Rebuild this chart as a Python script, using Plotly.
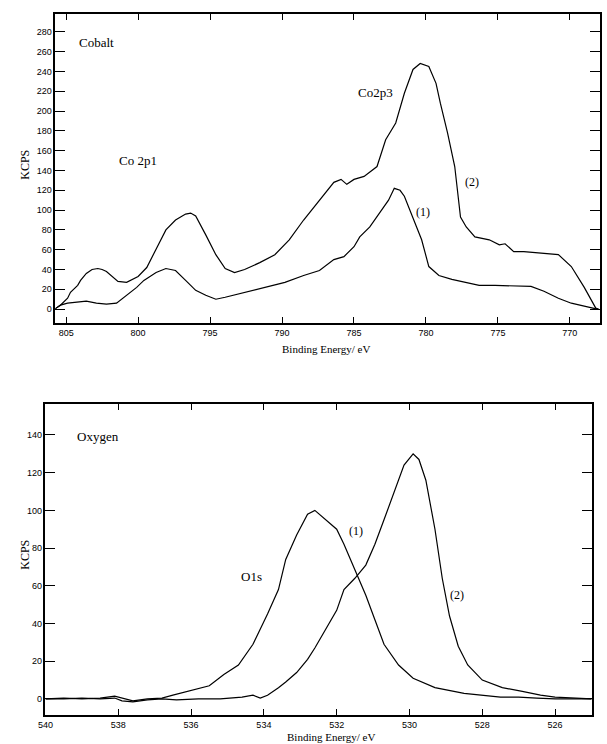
import plotly.graph_objects as go

# ---------- Cobalt (top panel) ----------
co_x_upper = [805.8, 805.4, 804.9, 804.7, 804.2, 804.0, 803.6, 803.2, 802.8, 802.5, 802.2, 801.8,
              801.4, 800.8, 800.5, 800.0, 799.4, 798.75, 798.07, 797.4, 796.7, 796.35, 796.0,
              795.3, 794.6, 793.95, 793.3, 792.6, 791.55, 790.5, 789.5, 788.5, 787.8, 787.1,
              786.4, 785.9, 785.5, 785.0, 784.3, 783.4, 782.8, 782.1, 781.5, 780.9, 780.4,
              779.8, 779.3, 779.0, 778.5, 778.0, 777.6, 777.2, 776.6, 775.6, 774.9, 774.5,
              773.9, 773.2, 772.2, 770.8, 769.9, 769.0, 768.2, 768.0]
co_y_upper = [0, 4, 11, 17, 24, 29, 36, 40, 41, 40, 38, 33,
              28, 27, 29, 33, 42, 60, 80, 90, 96, 97, 94,
              75, 55, 41, 37, 40, 47, 55, 70, 90, 103, 115,
              128, 131, 126, 131, 134, 144, 171, 188, 218, 242, 248,
              245, 228, 208, 178, 144, 93, 83, 73, 70, 65, 66,
              58, 58, 57, 55, 43, 22, 1, 0]

co_x_lower = [805.8, 805.4, 804.9, 804.2, 803.6, 802.9, 802.2, 801.5, 800.8, 800.1, 799.6,
              798.75, 798.07, 797.4, 796.7, 796.0, 795.3, 794.6, 793.95, 792.6, 791.2,
              789.8, 788.5, 787.4, 786.4, 785.7, 785.0, 784.6, 783.9, 783.2, 782.6, 782.2,
              781.8, 781.5, 780.9, 780.3, 779.8, 779.1, 778.2, 777.3, 776.3, 775.2, 773.6,
              772.7, 771.8, 770.8, 769.9, 769.0, 768.1]
co_y_lower = [0, 4, 6, 7, 8, 6, 5, 6, 14, 22, 29,
              37, 41, 39, 29, 19, 14, 10, 12, 17, 22,
              27, 34, 39, 50, 53, 63, 73, 83, 97, 110, 122,
              120, 114, 93, 70, 43, 34, 30, 27, 24, 24, 23,
              23, 18, 11, 6, 3, 0]

co_xticks = [805, 800, 795, 790, 785, 780, 775, 770]
co_yticks = list(range(0, 281, 20))

# ---------- Oxygen (bottom panel) ----------
o_x_1 = [540.0, 539.5, 539.0, 538.5, 538.1, 537.9, 537.6, 537.2, 536.8, 536.5, 536.1, 535.5,
         535.1, 534.7, 534.3, 533.9, 533.6, 533.4, 533.1, 532.8, 532.6, 532.35, 532.0,
         531.8, 531.5, 531.2, 530.95, 530.7, 530.3, 529.9, 529.3, 528.5, 527.5, 527.0,
         526.5, 526.0, 525.5, 525.0]
o_y_1 = [0, 0.5, 0, 0.5, 1.5, 0.5, -1, 0, 0.5, 2, 4, 7,
         13, 18, 29, 45, 58, 74, 87, 98, 100, 96, 90,
         82, 68, 55, 42, 29, 18, 11, 6, 3, 1, 1,
         0.5, 0, 0, 0]

o_x_2 = [540.0, 539.5, 539.0, 538.5, 538.1, 537.9, 537.6, 537.2, 536.8, 536.4, 535.8, 535.2,
         534.6, 534.3, 534.1, 533.9, 533.6, 533.4, 533.1, 532.8, 532.6, 532.3, 532.0,
         531.8, 531.5, 531.2, 530.95, 530.7, 530.4, 530.15, 529.9, 529.74, 529.55, 529.3,
         529.1, 528.9, 528.66, 528.4, 528.0, 527.45, 526.9, 526.4, 526.0, 525.5, 525.0]
o_y_2 = [0, 0, 0.5, 0, 0.5, -1, -1.5, -0.5, 0, -0.5, 0, 0,
         1, 2, 0.5, 2, 6, 9, 14, 21, 27, 37, 47,
         58, 64, 71, 82, 95, 111, 124, 130, 127, 116, 90,
         64, 44, 28, 18, 10, 6, 4, 2, 1, 0.5, 0]

o_xticks = [540, 538, 536, 534, 532, 530, 528, 526]
o_yticks = list(range(0, 141, 20))

W, H = 607, 744
line = dict(color="black", width=1.2)

fig = go.Figure()
fig.add_trace(go.Scatter(x=co_x_upper, y=co_y_upper, mode="lines", line=line, xaxis="x", yaxis="y"))
fig.add_trace(go.Scatter(x=co_x_lower, y=co_y_lower, mode="lines", line=line, xaxis="x", yaxis="y"))
fig.add_trace(go.Scatter(x=o_x_1, y=o_y_1, mode="lines", line=line, xaxis="x2", yaxis="y2"))
fig.add_trace(go.Scatter(x=o_x_2, y=o_y_2, mode="lines", line=line, xaxis="x2", yaxis="y2"))

tickfont = dict(family="Liberation Sans", size=9, color="black")
common = dict(showgrid=False, zeroline=False, showline=True, linecolor="black", linewidth=1.5,
              ticks="inside", tickcolor="black", tickwidth=1, mirror="ticks", tickfont=tickfont)

fig.update_layout(
    width=W, height=H, margin=dict(l=0, r=0, t=0, b=0),
    paper_bgcolor="white", plot_bgcolor="white", showlegend=False,
    xaxis=dict(domain=[48 / W, 600 / W], range=[805.75, 767.9], tickvals=co_xticks,
               ticklen=6, anchor="y", **common),
    yaxis=dict(domain=[1 - 323 / H, 1 - 14 / H], range=[-14, 298], tickvals=co_yticks,
               ticklen=10, anchor="x", **common),
    xaxis2=dict(domain=[38 / W, 592 / W], range=[540, 524.98], tickvals=o_xticks,
                ticklen=6, anchor="y2", **common),
    yaxis2=dict(domain=[1 - 715 / H, 1 - 404 / H], range=[-8.5, 156.4], tickvals=o_yticks,
                ticklen=10, anchor="x2", **common),
)

serif = "Liberation Serif"
ann = [
    dict(text="Cobalt", x=90 / W, y=1 - 43 / H, size=13),
    dict(text="Co2p3", x=372 / W, y=1 - 92 / H, size=13),
    dict(text="Co 2p1", x=132 / W, y=1 - 160 / H, size=13),
    dict(text="(2)", x=470 / W, y=1 - 182 / H, size=12),
    dict(text="(1)", x=421 / W, y=1 - 212 / H, size=12),
    dict(text="Oxygen", x=91 / W, y=1 - 436 / H, size=13),
    dict(text="O1s", x=247 / W, y=1 - 576 / H, size=13),
    dict(text="(1)", x=353 / W, y=1 - 531 / H, size=12),
    dict(text="(2)", x=455 / W, y=1 - 595 / H, size=12),
    dict(text="Binding Energy/ eV", x=322 / W, y=1 - 349 / H, size=11),
]
for a in ann:
    fig.add_annotation(text=a["text"], x=a["x"], y=a["y"], xref="paper", yref="paper",
                       showarrow=False, xanchor="center", yanchor="middle",
                       font=dict(family=serif, size=a["size"], color="black"))
fig.add_annotation(text="Binding Energy/ eV", x=327 / W, y=0, xref="paper", yref="paper",
                   showarrow=False, xanchor="center", yanchor="bottom", borderpad=0,
                   font=dict(family=serif, size=11, color="black"))
for yy in [165, 555]:
    fig.add_annotation(text="KCPS", x=17 / W, y=1 - yy / H, xref="paper", yref="paper",
                       showarrow=False, textangle=-90, xanchor="center", yanchor="middle",
                       font=dict(family=serif, size=12, color="black"))

fig.write_html("out.html")
